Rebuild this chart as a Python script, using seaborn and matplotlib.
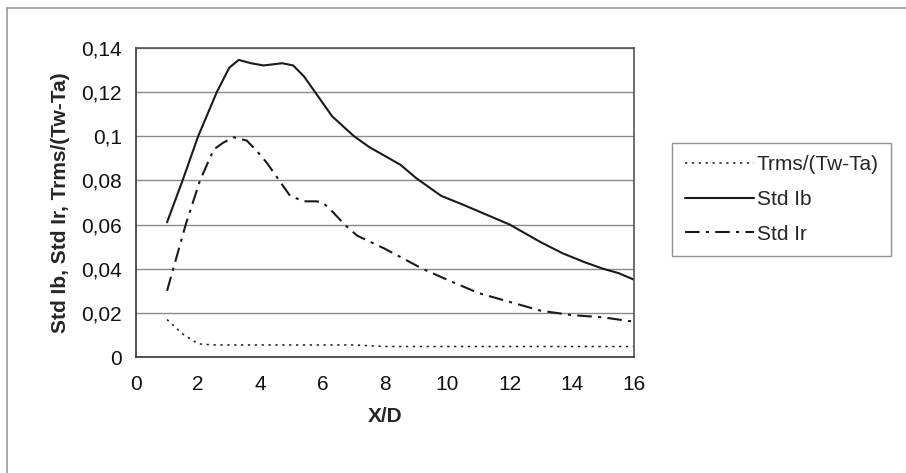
"""Std Ib / Std Ir / Trms profiles along X/D."""

import matplotlib

matplotlib.use("Agg")
import matplotlib.pyplot as plt
import seaborn as sns
from matplotlib.lines import Line2D

# --- data --------------------------------------------------------------------
ib_x = [1, 1.5, 2, 2.6, 3, 3.3, 3.7, 4.1, 4.7, 5.05, 5.4, 5.75, 6.3, 7, 7.5,
        8.5, 9, 9.8, 10.5, 11, 12, 12.5, 13, 13.7, 14.4, 15, 15.5, 16]
ib_y = [0.061, 0.08, 0.1, 0.12, 0.131, 0.1345, 0.133, 0.132, 0.133, 0.132,
        0.127, 0.12, 0.109, 0.1, 0.095, 0.087, 0.081, 0.073, 0.069, 0.066,
        0.06, 0.056, 0.052, 0.047, 0.043, 0.040, 0.038, 0.035]

ir_x = [1, 1.3, 1.6, 2.06, 2.5, 2.8, 3.13, 3.56, 3.9, 4.2, 4.6, 4.95, 5.4,
        5.8, 6.0, 6.3, 6.7, 7.1, 8, 9.2, 10, 11, 12, 13, 14, 15, 16]
ir_y = [0.03, 0.045, 0.06, 0.08, 0.094, 0.097, 0.0995, 0.098, 0.093, 0.088,
        0.08, 0.073, 0.0705, 0.0705, 0.070, 0.066, 0.06, 0.055, 0.049, 0.04,
        0.035, 0.029, 0.025, 0.021, 0.019, 0.018, 0.016]

trms_x = [1, 1.5, 2, 2.5, 4, 6, 7, 8, 10, 12, 14, 16]
trms_y = [0.017, 0.0105, 0.006, 0.0055, 0.0055, 0.0055, 0.0055, 0.0048,
          0.0048, 0.0048, 0.0048, 0.0048]

labels = ["Trms/(Tw-Ta)", "Std Ib", "Std Ir"]
x_ticks = [0, 2, 4, 6, 8, 10, 12, 14, 16]
y_ticks = [0, 0.02, 0.04, 0.06, 0.08, 0.1, 0.12, 0.14]
y_tick_labels = ["0", "0,02", "0,04", "0,06", "0,08", "0,1", "0,12", "0,14"]

LINE = "#1a1a1a"
GRID = "#8a8a8a"
DOTTED = (0, (1.5, 3))
DASHDOT = (0, (7, 3, 1.5, 3))
FS = 15

sns.set_theme(style="white")
plt.rcParams["font.family"] = ["Liberation Sans", "DejaVu Sans"]

fig = plt.figure(figsize=(9.06, 4.73), dpi=100)
ax = fig.add_axes([0.150, 0.245, 0.550, 0.654])

sns.lineplot(x=trms_x, y=trms_y, ax=ax, color=LINE, lw=1.1, linestyle=DOTTED)
sns.lineplot(x=ib_x, y=ib_y, ax=ax, color=LINE, lw=1.5)
sns.lineplot(x=ir_x, y=ir_y, ax=ax, color=LINE, lw=1.5, linestyle=DASHDOT)

ax.set_xlim(0, 16)
ax.set_ylim(0, 0.14)
ax.set_xticks(x_ticks)
ax.set_xticklabels([str(v) for v in x_ticks])
ax.set_yticks(y_ticks)
ax.set_yticklabels(y_tick_labels)
ax.yaxis.grid(True, color=GRID, lw=1)
ax.tick_params(axis="both", labelsize=FS, colors="#111111", length=5,
               width=0.9, direction="out", pad=5)
ax.tick_params(axis="x", pad=8)
for side in ["left", "bottom", "top", "right"]:
    ax.spines[side].set_color("#555555")
    ax.spines[side].set_linewidth(1.2)
ax.spines["left"].set_color("#333333")
ax.spines["bottom"].set_color("#333333")

ax.set_xlabel("X/D", fontsize=FS, fontweight="bold", labelpad=9)
ax.set_ylabel("Std Ib, Std Ir, Trms/(Tw-Ta)", fontsize=FS, fontweight="bold",
              labelpad=8)

handles = [
    Line2D([], [], color=LINE, lw=1.1, linestyle=DOTTED),
    Line2D([], [], color=LINE, lw=1.5),
    Line2D([], [], color=LINE, lw=1.5, linestyle=DASHDOT),
]
leg = fig.legend(handles, labels, loc="upper left",
                 bbox_to_anchor=(0.742, 0.698), bbox_transform=fig.transFigure,
                 borderaxespad=0, fontsize=FS, handlelength=3.3,
                 handletextpad=0.15, labelspacing=0.75, borderpad=0.6,
                 frameon=True, fancybox=False)
leg.get_frame().set_edgecolor("#777777")
leg.get_frame().set_linewidth(1.0)

# outer chart-area border (only top and left show in the reference)
fig.add_artist(Line2D([0.008, 1.0], [0.983, 0.983], transform=fig.transFigure,
                      color="#999999", lw=1.2))
fig.add_artist(Line2D([0.008, 0.008], [0.0, 0.983], transform=fig.transFigure,
                      color="#999999", lw=1.2))

fig.savefig("out.png", dpi=100)
plt.close(fig)
